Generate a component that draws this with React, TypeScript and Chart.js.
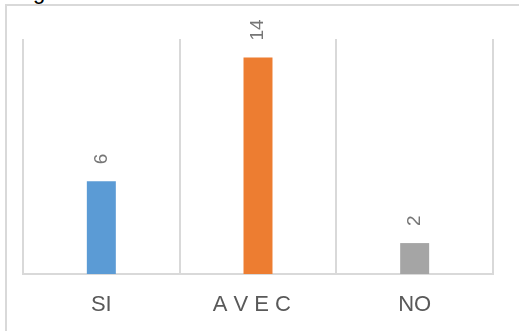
import React, { useEffect, useRef } from "react";
import { Chart, registerables } from "chart.js";

Chart.register(...registerables);

const categories = ["SI", "A V E C  ", "NO"];
const values = [6, 14, 2];
const barColors = ["#5B9BD5", "#ED7D31", "#A5A5A5"];
const yMax = 15.2;

const labelPlugin = {
  id: "barLabels",
  afterDatasetsDraw(chart: any) {
    const ctx = chart.ctx;
    const meta = chart.getDatasetMeta(0);
    ctx.save();
    ctx.fillStyle = "#767676";
    ctx.font = "19px 'Liberation Sans', Arial, sans-serif";
    ctx.textAlign = "left";
    ctx.textBaseline = "middle";
    meta.data.forEach((bar: any, i: number) => {
      const x = bar.x;
      const y = bar.y - 17;
      ctx.save();
      ctx.translate(x, y);
      ctx.rotate(-Math.PI / 2);
      ctx.fillText(String(values[i]), 0, 0);
      ctx.restore();
    });
    ctx.restore();
  },
};

export default function App() {
  const ref = useRef<HTMLCanvasElement | null>(null);
  useEffect(() => {
    if (!ref.current) return;
    const chart = new Chart(ref.current, {
      type: "bar",
      data: {
        labels: categories,
        datasets: [
          {
            data: values,
            backgroundColor: barColors,
            borderWidth: 0,
            categoryPercentage: 1,
            barPercentage: 0.185,
          },
        ],
      },
      options: {
        animation: false,
        responsive: false,
        maintainAspectRatio: false,
        layout: { padding: { left: 23, right: 26, top: 39, bottom: -5.4 } },
        plugins: { legend: { display: false }, tooltip: { enabled: false } },
        scales: {
          x: {
            grid: {
              offset: true,
              color: "#D9D9D9",
              lineWidth: 2,
              drawTicks: false,
            },
            border: { display: true, color: "#D9D9D9", width: 2 },
            ticks: {
              color: "#595959",
              padding: 18,
              font: { family: "'Liberation Sans', Arial, sans-serif", size: 22 },
            },
          },
          y: {
            display: false,
            min: 0,
            max: yMax,
          },
        },
      },
      plugins: [labelPlugin],
    });
    return () => chart.destroy();
  }, []);

  return (
    <div
      style={{
        position: "fixed",
        left: 0,
        top: 0,
        width: 519,
        height: 331,
        overflow: "hidden",
        background: "#fff",
      }}
    >
      <div
        style={{
          position: "absolute",
          left: 5,
          top: 4,
          width: 600,
          height: 400,
          border: "2px solid #D9D9D9",
        }}
      />
      <div
        style={{
          position: "absolute",
          left: 33,
          top: -18.6,
          fontFamily: "'Liberation Sans', Arial, sans-serif",
          fontSize: 22,
          lineHeight: "22px",
          color: "#000",
        }}
      >
        g
      </div>
      <canvas
        ref={ref}
        width={519}
        height={331}
        style={{ position: "absolute", left: 0, top: 0, width: 519, height: 331 }}
      />
    </div>
  );
}
